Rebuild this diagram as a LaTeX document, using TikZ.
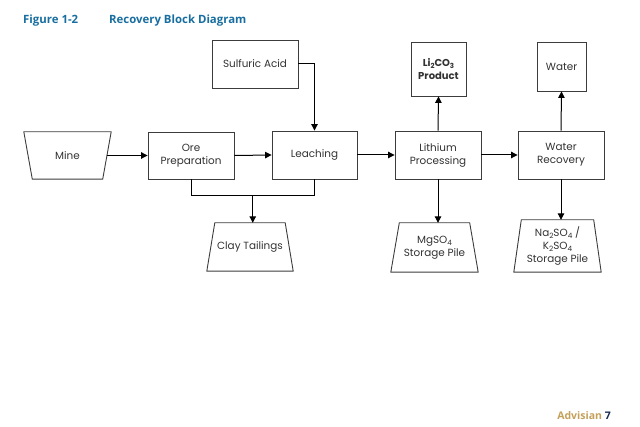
\documentclass[tikz,border=0pt]{standalone}
\usepackage{fontspec}
\setmainfont{Poppins}
\newfontfamily\titlefont{Open Sans}
\usetikzlibrary{arrows.meta,calc}
\definecolor{boxline}{RGB}{60,60,60}
\definecolor{txt}{RGB}{50,50,50}
\definecolor{titleblue}{RGB}{24,110,160}
\definecolor{gold}{RGB}{196,160,90}
\definecolor{navy}{RGB}{25,40,80}
\newcommand{\lsub}[1]{\raisebox{-0.35ex}{\scalebox{0.7}{#1}}}
\begin{document}
\begin{tikzpicture}[x=1pt,y=-1pt,
  lbl/.style={text=txt,font=\fontsize{10.4}{13}\selectfont,align=center,inner sep=0pt},
  blk/.style={lbl,draw=boxline,line width=0.9pt,fill=white},
  trap/.style={draw=boxline,line width=0.9pt},
  link/.style={draw=black,line width=1pt},
  flow/.style={link,-{Triangle[length=6.5pt,width=6.5pt]}},
  ttlfont/.style={font=\titlefont\bfseries\fontsize{11.4}{13}\selectfont,text=titleblue},
  ]
\useasboundingbox (0,0) rectangle (640,427);
% title
\node[anchor=base west,inner sep=0pt,ttlfont] (fig) at (23,24) {Figure 1-2};
\node[anchor=base west,inner sep=0pt,ttlfont] (ttl) at (109,24) {Recovery Block Diagram};
% main row
\node[lbl,minimum width=87pt,minimum height=47pt] (mine) at (67.5,155.5) {Mine};
\draw[trap] (mine.north west) -- (mine.north east) -- ([xshift=-8.5pt]mine.south east) -- ([xshift=8.5pt]mine.south west) -- cycle;
\node[blk,minimum width=86pt,minimum height=47pt] (ore) at (191,155.5) {Ore\\Preparation};
\node[blk,minimum width=85pt,minimum height=48pt] (leach) at (314.5,155) {Leaching};
\node[blk,minimum width=86pt,minimum height=48pt] (acid) at (255,64) {Sulfuric Acid};
\node[blk,minimum width=86pt,minimum height=48pt] (lith) at (438,155) {Lithium\\Processing};
\node[blk,font=\bfseries\fontsize{10}{13}\selectfont,minimum width=55pt,minimum height=54pt] (li) at (438.5,69) {Li\lsub{2}CO\lsub{3}\\Product};
\node[blk,minimum width=86pt,minimum height=48pt] (wr) at (561,155) {Water\\Recovery};
\node[blk,minimum width=49pt,minimum height=49pt] (wat) at (561.5,66.5) {Water};
% piles
\node[lbl,minimum width=86pt,minimum height=48pt] (clay) at (250,247) {Clay Tailings};
\draw[trap] ([xshift=8pt]clay.north west) -- ([xshift=-8pt]clay.north east) -- (clay.south east) -- (clay.south west) -- cycle;
\node[lbl,minimum width=87pt,minimum height=49pt] (mg) at (434.5,247.5) {MgSO\lsub{4}\\Storage Pile};
\draw[trap] ([xshift=8.5pt]mg.north west) -- ([xshift=-8.5pt]mg.north east) -- (mg.south east) -- (mg.south west) -- cycle;
\node[lbl,minimum width=87pt,minimum height=52pt] (na) at (557.5,246) {Na\lsub{2}SO\lsub{4} /\\K\lsub{2}SO\lsub{4}\\Storage Pile};
\draw[trap] ([xshift=7.5pt]na.north west) -- ([xshift=-7.5pt]na.north east) -- (na.south east) -- (na.south west) -- cycle;
% connectors
\draw[flow] ([xshift=-4.25pt]mine.east) -- (ore.west);
\draw[flow] (ore.east) -- (leach.west);
\draw[flow] (leach.east) -- (lith.west);
\draw[flow] (lith.east) -- (wr.west);
\draw[flow] (acid.east) -| (leach.north);
\draw[flow] (lith.north) -- (li.south);
\draw[flow] (wr.north) -- (wat.south);
\draw[flow] (lith.south) -- (lith.south |- mg.north);
\draw[flow] (wr.south) -- (wr.south |- na.north);
\draw[link] (ore.south) -- ++(0,16) coordinate (j1) -| (leach.south);
\coordinate (jm) at ($(j1)!0.5!(j1 -| leach.south)$);
\draw[flow] (jm) -- (jm |- clay.north);
% footer
\node[anchor=base east,inner sep=0pt,font=\titlefont\bfseries\fontsize{10.5}{12}\selectfont] (foot) at (611,420) {\textcolor{gold}{Advisian} \textcolor{navy}{7}};
\end{tikzpicture}
\end{document}
